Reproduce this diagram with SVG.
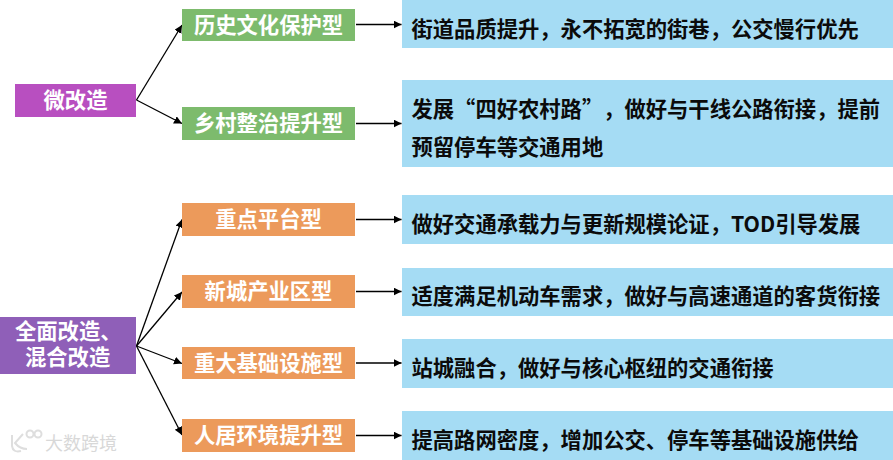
<svg xmlns="http://www.w3.org/2000/svg" width="893" height="460" viewBox="0 0 893 460">
<style>
text{font-family:"Noto Sans CJK SC","Liberation Sans",sans-serif;font-weight:700;font-size:21.3px;text-spacing-trim:space-all}
.w{fill:#fff;text-anchor:middle}
.s{fill:#fff}
.k{fill:#0b0b0b}
.g{fill:#7dbb6d}.o{fill:#ec9a5b}.b{fill:#a5dcf4}
.c{stroke:#000;stroke-width:1.3;fill:none;marker-end:url(#a)}
</style>
<defs><marker id="a" markerUnits="userSpaceOnUse" markerWidth="10" markerHeight="10" refX="8" refY="4" orient="auto"><path d="M0 0L8 4L0 8Z" fill="#000"/></marker></defs>
<rect width="893" height="460" fill="#fff"/>
<g id="connectors">
<path class="c" d="M136.500 100L182 25"/>
<path class="c" d="M136.500 100L182 123.500"/>
<path class="c" d="M136.500 346L182 219.500"/>
<path class="c" d="M136.500 346L182 292"/>
<path class="c" d="M136.500 346L182 363.500"/>
<path class="c" d="M136.500 346L182 435"/>
<path class="c" d="M356 24.500H401.500"/>
<path class="c" d="M356 123.500H401.500"/>
<path class="c" d="M356 219.500H401.500"/>
<path class="c" d="M356 291.500H401.500"/>
<path class="c" d="M356 363H401.500"/>
<path class="c" d="M356 435.500H401.500"/>
</g>
<g id="n-wei"><rect x="15" y="84" width="121" height="33" fill="#b84fc0"/><text class="w" x="75.500" y="108">微改造</text></g>
<g id="n-quan"><rect x="0" y="317" width="136" height="57" fill="#8f5fb8"/><text class="s"><tspan x="15" y="339">全面改造、</tspan><tspan x="25" y="365">混合改造</tspan></text></g>
<g id="n-t1"><rect class="g" x="182" y="9" width="173" height="32"/><text class="w" x="268.500" y="33">历史文化保护型</text></g>
<g id="n-t2"><rect class="g" x="182" y="107" width="173" height="33"/><text class="w" x="268.500" y="131">乡村整治提升型</text></g>
<g id="n-t3"><rect class="o" x="182" y="203" width="173" height="33"/><text class="w" x="268.500" y="227">重点平台型</text></g>
<g id="n-t4"><rect class="o" x="182" y="275" width="173" height="33"/><text class="w" x="268.500" y="299">新城产业区型</text></g>
<g id="n-t5"><rect class="o" x="182" y="347" width="173" height="32"/><text class="w" x="268.500" y="371">重大基础设施型</text></g>
<g id="n-t6"><rect class="o" x="182" y="419" width="173" height="33"/><text class="w" x="268.500" y="443">人居环境提升型</text></g>
<g id="n-d1"><rect class="b" x="402" y="0" width="491" height="48"/><text class="k" x="411.500" y="37">街道品质提升，永不拓宽的街巷，公交慢行优先</text></g>
<g id="n-d2"><rect class="b" x="402" y="80" width="491" height="87"/><text class="k" x="411.500" y="117">发展“四好农村路”，做好与干线公路衔接，提前</text><text class="k" x="411.500" y="155">预留停车等交通用地</text></g>
<g id="n-d3"><rect class="b" x="402" y="195" width="491" height="49"/><text class="k" x="411.500" y="232">做好交通承载力与更新规模论证，TOD引导发展</text></g>
<g id="n-d4"><rect class="b" x="402" y="268" width="491" height="48"/><text class="k" x="411.500" y="304">适度满足机动车需求，做好与高速通道的客货衔接</text></g>
<g id="n-d5"><rect class="b" x="402" y="339" width="491" height="49"/><text class="k" x="411.500" y="376">站城融合，做好与核心枢纽的交通衔接</text></g>
<g id="n-d6"><rect class="b" x="402" y="411" width="491" height="49"/><text class="k" x="411.500" y="448">提高路网密度，增加公交、停车等基础设施供给</text></g>
<g id="watermark" fill="none" stroke="#dedede" stroke-width="2"><path d="M12 435V446Q13 453 21 451M23 434L15 443Q20 449 27 449"/><circle cx="30" cy="434" r="3.500"/><circle cx="38" cy="434" r="3.500"/><text x="45" y="450" style="font-size:18px;font-weight:400;fill:#d8d8d8;stroke:none">大数跨境</text></g>
</svg>
